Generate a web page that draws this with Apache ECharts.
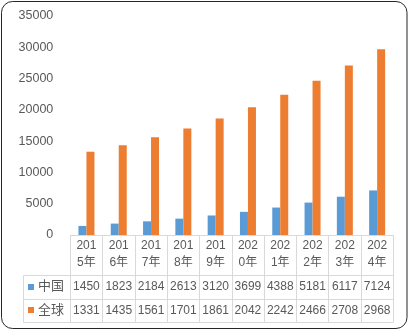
<!DOCTYPE html>
<html><head><meta charset="utf-8">
<script src="https://cdn.jsdelivr.net/npm/echarts@6/dist/echarts.min.js"></script>
<style>html,body{margin:0;padding:0;background:#fff;}#c{width:408px;height:330px;}</style>
</head><body><div id="c"></div>
<script>
const categories = ['2015年','2016年','2017年','2018年','2019年','2020年','2021年','2022年','2023年','2024年'];
const seriesNames = ['中国','全球'];
const chinaValues = [1450,1823,2184,2613,3120,3699,4388,5181,6117,7124];
const worldValues = [13310,14350,15610,17010,18610,20420,22420,24660,27080,29680];
const colors = ['#5B9BD5','#ED7D31'];

const FONT = "'Liberation Sans','Noto Sans CJK SC',sans-serif";
const TXT = '#595959';
const LINE = '#d9d9d9';

const chart = echarts.init(document.getElementById('c'), null, {renderer:'canvas'});
const option = {
  animation:false,
  backgroundColor:'#fff',
  textStyle:{fontFamily:FONT},
  grid:{left:70.3, right:14.7, top:16, bottom:95, containLabel:false},
  xAxis:{
    type:'category', data:categories,
    axisLine:{lineStyle:{color:LINE,width:1}},
    axisTick:{show:true, length:87, lineStyle:{color:LINE}},
    axisLabel:{color:TXT, fontSize:12, fontFamily:FONT, lineHeight:17, margin:2,
      formatter:(v)=>v.slice(0,3)+'\n'+v.slice(3)}
  },
  yAxis:{
    type:'value', min:0, max:35000, interval:5000,
    axisLine:{show:false}, axisTick:{show:false}, splitLine:{show:false},
    axisLabel:{color:TXT, fontSize:12.5, fontFamily:FONT, margin:17, formatter:(v)=>String(v)}
  },
  series:[
    {name:seriesNames[0], type:'bar', data:chinaValues, barWidth:8, barGap:'0%', itemStyle:{color:colors[0]}},
    {name:seriesNames[1], type:'bar', data:worldValues, barWidth:8, barGap:'0%', itemStyle:{color:colors[1]}}
  ]
};
chart.setOption(option);

// Build data table beneath axis using the axis scale for column positions
const x0 = chart.convertToPixel({xAxisIndex:0}, 0);
const x1 = chart.convertToPixel({xAxisIndex:0}, 1);
const colW = x1 - x0;
const left = x0 - colW/2;
const right = left + colW*categories.length;
const yAxisLine = chart.convertToPixel({yAxisIndex:0}, 0);
const legendLeft = 22.7;
const rowTop = [yAxisLine + 40, yAxisLine + 63.5];
const rowH = 23.5;
const rowsData = [chinaValues, worldValues];
const g = [];
const crisp = v => Math.round(v) + 0.5;
[rowTop[0], rowTop[1], rowTop[1] + rowH].forEach(y=>{
  g.push({type:'line', shape:{x1:crisp(legendLeft), y1:crisp(y), x2:crisp(right), y2:crisp(y)}, style:{stroke:LINE, lineWidth:1}});
});
g.push({type:'line', shape:{x1:crisp(legendLeft), y1:crisp(rowTop[0]), x2:crisp(legendLeft), y2:crisp(rowTop[1]+rowH)}, style:{stroke:LINE, lineWidth:1}});
rowsData.forEach((arr, r)=>{
  const cy = rowTop[r] + rowH/2;
  g.push({type:'rect', shape:{x:28, y:Math.round(cy-3), width:6, height:6}, style:{fill:colors[r]}});
  g.push({type:'text', style:{text:seriesNames[r], x:38, y:cy, fill:TXT, font:'13px '+FONT, textVerticalAlign:'middle', verticalAlign:'middle'}});
  arr.forEach((v,i)=>{
    const cx = chart.convertToPixel({xAxisIndex:0}, i);
    g.push({type:'text', style:{text:String(v).slice(0,4), x:cx, y:cy, fill:TXT, font:'12px '+FONT, align:'center', verticalAlign:'middle', textAlign:'center', textVerticalAlign:'middle'}});
  });
});
g.push({type:'rect', shape:{x:1.5, y:1.5, width:405.5, height:327, r:11}, style:{fill:'none', stroke:'#262626', lineWidth:1}});
chart.setOption({graphic:g});
</script>
</body></html>
